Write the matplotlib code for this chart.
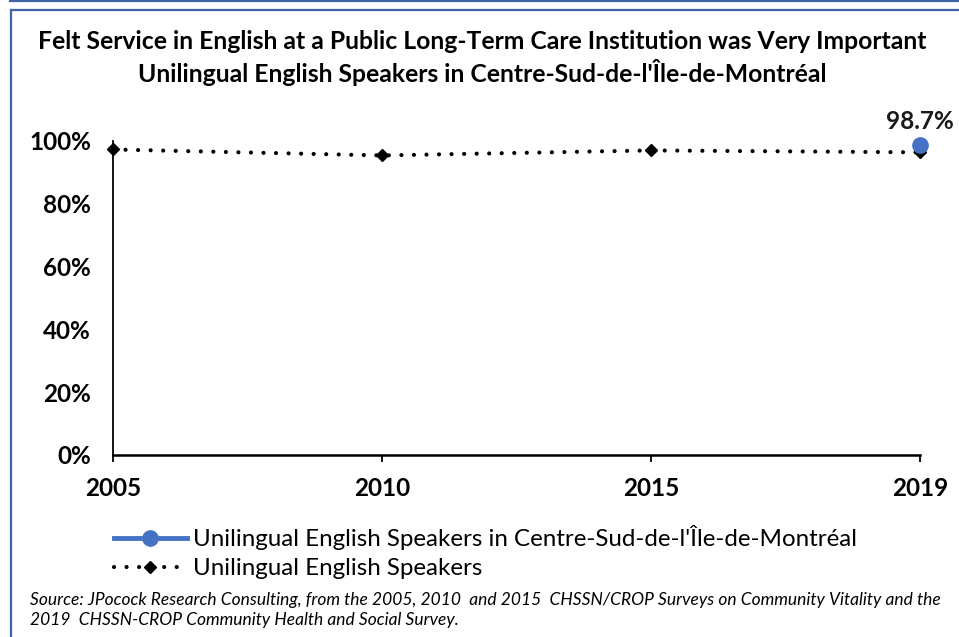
import matplotlib
matplotlib.use("Agg")
import matplotlib.pyplot as plt
from matplotlib.lines import Line2D

plt.rcParams['font.family'] = ['Lato', 'DejaVu Sans']

years = ["2005", "2010", "2015", "2019"]
all_speakers = [0.973, 0.954, 0.970, 0.964]
centre_sud_years = ["2019"]
centre_sud = [0.987]
yticks = [0.0, 0.2, 0.4, 0.6, 0.8, 1.0]
ytick_labels = ["0%", "20%", "40%", "60%", "80%", "100%"]

title = ("Felt Service in English at a Public Long-Term Care Institution was Very Important\n"
         "Unilingual English Speakers in Centre-Sud-de-l'Île-de-Montréal")
label_cs = "Unilingual English Speakers in Centre-Sud-de-l'Île-de-Montréal"
label_all = "Unilingual English Speakers"
source = ("Source: JPocock Research Consulting, from the 2005, 2010  and 2015  CHSSN/CROP Surveys on Community Vitality and the\n"
          "2019  CHSSN-CROP Community Health and Social Survey.")

W, H = 959, 637
fig = plt.figure(figsize=(W / 100, H / 100), dpi=100)

blue = "#4472C4"
frame = "#3F63A8"

# outer frame lines
fig.add_artist(Line2D([10 / W, 1], [1 - 1 / H, 1 - 1 / H], color=frame, lw=1.6, transform=fig.transFigure))
fig.add_artist(Line2D([11 / W, 1], [1 - 10 / H, 1 - 10 / H], color=frame, lw=1.6, transform=fig.transFigure))
fig.add_artist(Line2D([11 / W, 11 / W], [0, 1 - 10 / H], color=frame, lw=1.6, transform=fig.transFigure))

left, right, top, bottom = 113, 920, 141, 455
ax = fig.add_axes([left / W, 1 - bottom / H, (right - left) / W, (bottom - top) / H])

x = list(range(len(years)))
ax.plot(x, all_speakers, color="black", lw=3, linestyle=(0, (0.01, 3.0)),
        dash_capstyle="round", marker="D", markersize=6, zorder=3, clip_on=False, label=label_all)
xc = [years.index(y) for y in centre_sud_years]
ax.plot(xc, centre_sud, color=blue, lw=3.5, marker="o", markersize=11, zorder=4, clip_on=False,
        label=label_cs)
for xi, v in zip(xc, centre_sud):
    ax.annotate(f"{v * 100:.1f}%", (xi, v), xytext=(0, 9), textcoords="offset points",
                ha="center", va="bottom", fontsize=17.5, fontweight="bold", color="#1a1a1a")

ax.set_xlim(0, len(years) - 1)
ax.set_ylim(0, 1.0)
ax.set_xticks(x)
ax.set_xticklabels(years, fontsize=17.5, fontweight="bold")
ax.set_yticks(yticks)
ax.set_yticklabels(ytick_labels, fontsize=17.5, fontweight="bold")
ax.tick_params(axis="x", length=5, width=1.3, direction="out", pad=11)
ax.tick_params(axis="y", length=0, pad=16)
for s in ["top", "right"]:
    ax.spines[s].set_visible(False)
ax.spines["left"].set_linewidth(1.3)
ax.spines["bottom"].set_linewidth(1.8)
ax.patch.set_alpha(0)

fig.text(482 / W, 1 - 58 / H, title, ha="center", va="center", fontsize=17.8, fontweight="bold",
         linespacing=1.25)

handles, labels = ax.get_legend_handles_labels()
leg = fig.legend(handles[::-1], labels[::-1], loc="upper left", bbox_to_anchor=(114 / W, 1 - 525 / H),
                 frameon=False, fontsize=17.4, handlelength=3.0, handletextpad=0.25, labelspacing=0.35,
                 borderaxespad=0, borderpad=0)

fig.text(30 / W, 1 - 610 / H, source, ha="left", va="center", fontsize=12.5, style="italic",
         linespacing=1.3)

fig.savefig("out.png", dpi=100)
